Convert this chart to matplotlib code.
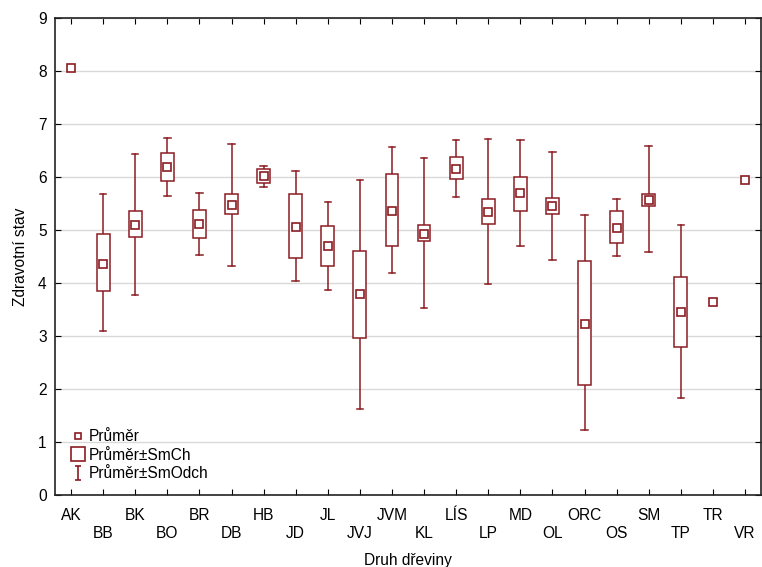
import numpy as np
import matplotlib
matplotlib.use("Agg")
import matplotlib.pyplot as plt
from matplotlib.lines import Line2D
from matplotlib.path import Path
from matplotlib.patches import Rectangle

druhy = ['AK', 'BB', 'BK', 'BO', 'BR', 'DB', 'HB', 'JD', 'JL', 'JVJ', 'JVM',
         'KL', 'LÍS', 'LP', 'MD', 'OL', 'ORC', 'OS', 'SM', 'TP', 'TR', 'VR']
prumer = [8.05, 4.36, 5.09, 6.18, 5.11, 5.48, 6.01, 5.06, 4.69, 3.79, 5.36,
          4.92, 6.15, 5.34, 5.69, 5.45, 3.23, 5.04, 5.57, 3.46, 3.64, 5.94]
smch_horni = [np.nan, 4.92, 5.35, 6.46, 5.37, 5.67, 6.16, 5.67, 5.07, 4.61, 6.05,
              5.09, 6.37, 5.58, 6.00, 5.60, 4.42, 5.35, 5.67, 4.12, np.nan, np.nan]
smch_dolni = [np.nan, 3.84, 4.86, 5.92, 4.85, 5.30, 5.88, 4.47, 4.33, 2.96, 4.70,
              4.79, 5.97, 5.11, 5.36, 5.30, 2.08, 4.75, 5.46, 2.79, np.nan, np.nan]
smodch_horni = [np.nan, 5.67, 6.43, 6.74, 5.70, 6.62, 6.21, 6.11, 5.53, 5.95, 6.56,
                6.36, 6.69, 6.72, 6.69, 6.48, 5.28, 5.58, 6.58, 5.09, np.nan, np.nan]
smodch_dolni = [np.nan, 3.10, 3.78, 5.65, 4.53, 4.33, 5.82, 4.03, 3.87, 1.62, 4.19,
                3.52, 5.63, 3.99, 4.70, 4.43, 1.22, 4.51, 4.58, 1.83, np.nan, np.nan]

barva = '#8c1c22'
sirkaBox = 0.4
sirkaCap = 0.2
velikostPisma = 11.2

plt.rcParams['font.family'] = ['Liberation Sans', 'DejaVu Sans']

fig = plt.figure(figsize=(7.62, 5.67), dpi=100)
ax = fig.add_axes([55/762, 72/567, 706/762, 477/567])

x = np.arange(len(druhy))

for i in x:
    if np.isnan(smch_horni[i]):
        continue
    # whisker (prumer +- smerodatna odchylka)
    ax.plot([i, i], [smodch_dolni[i], smch_dolni[i]], color=barva, lw=1.1, zorder=3)
    ax.plot([i, i], [smch_horni[i], smodch_horni[i]], color=barva, lw=1.1, zorder=3)
    ax.plot([i - sirkaCap/2, i + sirkaCap/2], [smodch_dolni[i]]*2, color=barva, lw=1.1, zorder=3)
    ax.plot([i - sirkaCap/2, i + sirkaCap/2], [smodch_horni[i]]*2, color=barva, lw=1.1, zorder=3)
    # box (prumer +- smerodatna chyba)
    ax.add_patch(Rectangle((i - sirkaBox/2, smch_dolni[i]), sirkaBox,
                           smch_horni[i] - smch_dolni[i], facecolor='white',
                           edgecolor=barva, lw=1.1, zorder=3))

ax.plot(x, prumer, linestyle='none', marker='s', markersize=5.5, markerfacecolor='white',
        markeredgecolor=barva, markeredgewidth=1.2, zorder=4)

ax.set_xlim(-0.5, len(druhy) - 0.5)
ax.set_ylim(0, 9)
ax.set_yticks(range(10))
ax.set_xticks(x)
ax.set_xticklabels([d if i % 2 == 0 else '\n' + d for i, d in enumerate(druhy)],
                   fontsize=velikostPisma, linespacing=1.25)
ax.tick_params(axis='y', labelsize=velikostPisma, pad=6)
ax.tick_params(axis='x', pad=9)
ax.tick_params(direction='in', top=True, right=True, length=4, width=0.8)
ax.grid(axis='y', color='#d9d9d9', lw=1, zorder=0)
ax.set_axisbelow(True)
for s in ax.spines.values():
    s.set_color('#222222')
    s.set_linewidth(1.2)

ax.set_xlabel('Druh dřeviny', fontsize=velikostPisma, labelpad=9)
ax.set_ylabel('Zdravotní stav', fontsize=velikostPisma, labelpad=7)

# legenda
ibeam = Path([(-0.5, -1), (0.5, -1), (0, -1), (0, 1), (-0.5, 1), (0.5, 1)],
             [Path.MOVETO, Path.LINETO, Path.MOVETO, Path.LINETO, Path.MOVETO, Path.LINETO])
h1 = Line2D([], [], linestyle='none', marker='s', markersize=5, markerfacecolor='white',
            markeredgecolor=barva, markeredgewidth=1.2)
h2 = Line2D([], [], linestyle='none', marker='s', markersize=10, markerfacecolor='white',
            markeredgecolor=barva, markeredgewidth=1.2)
h3 = Line2D([], [], linestyle='none', marker=ibeam, markersize=10, markerfacecolor='none',
            markeredgecolor=barva, markeredgewidth=1.2)
ax.legend([h1, h2, h3], ['Průměr', 'Průměr±SmCh', 'Průměr±SmOdch'], loc='lower left',
          bbox_to_anchor=(0.0, 0.0), frameon=False, fontsize=velikostPisma,
          handlelength=1.2, handletextpad=0.1, labelspacing=0.22, borderaxespad=0.5)

plt.savefig('out.png', dpi=100)
